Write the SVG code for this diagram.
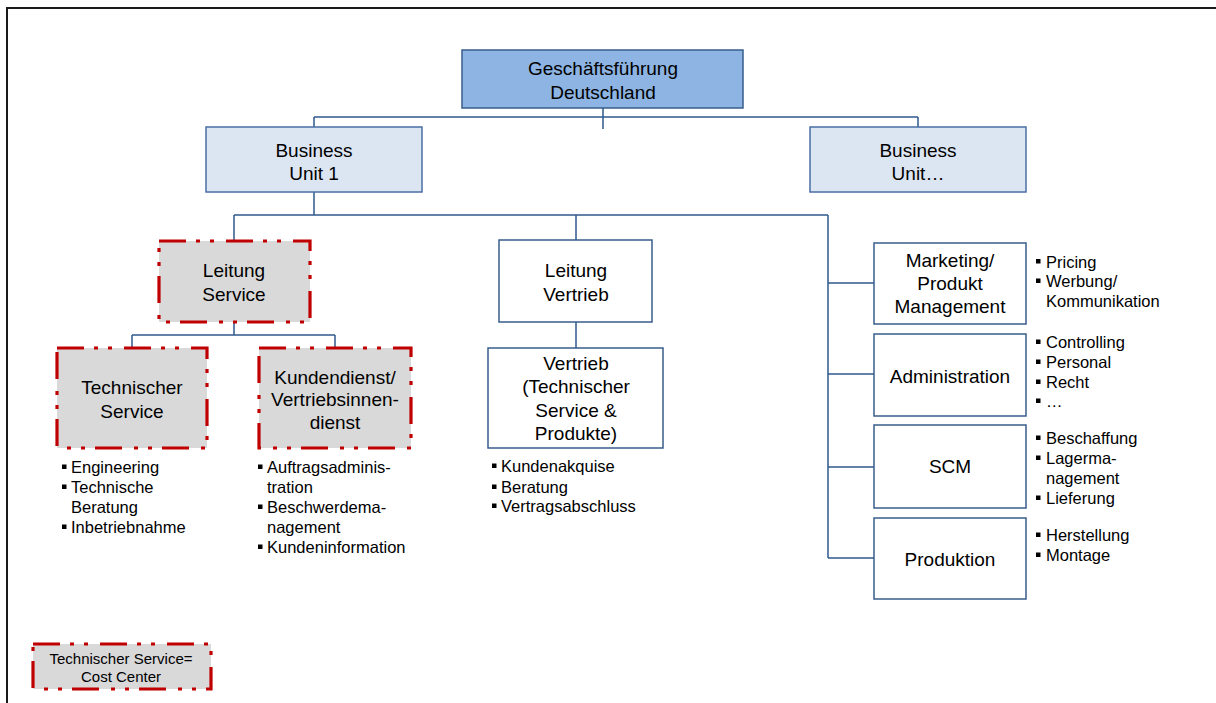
<svg xmlns="http://www.w3.org/2000/svg" width="1216" height="703" viewBox="0 0 1216 703">
<style>
text{font-family:"Liberation Sans",Arial,sans-serif;fill:#000}
.lbl{font-size:19px;text-anchor:middle}
.bl{font-size:16.5px}
.lg{font-size:15px;text-anchor:middle}
.top{fill:#8DB4E2;stroke:#385D8A;stroke-width:1.5}
.bu{fill:#DCE6F2;stroke:#4A6FA5;stroke-width:1.5}
.wb{fill:#FFFFFF;stroke:#385D8A;stroke-width:1.5}
.cc{fill:#D9D9D9;stroke:#C00000;stroke-width:3.2;stroke-dasharray:27 10 4 10 4 12}
.con{stroke:#2F5A8E;stroke-width:1.5;fill:none}
.sq{fill:#000}
</style>
<rect width="1216" height="703" fill="#FFFFFF"/>
<path d="M7,703 V8 H1216" fill="none" stroke="#1A1A1A" stroke-width="2"/>
<g id="connectors" class="con">
<path d="M603,108 V129 M314,117 H918 M314,117 V127 M918,117 V127"/>
<path d="M314,192 V215 M234,215 H828 M234,215 V240 M576,215 V240 M828,215 V558"/>
<path d="M828,283 H874 M828,374 H874 M828,467 H874 M828,558 H874"/>
<path d="M234,322 V335 M132,335 H335 M132,335 V347 M335,335 V347"/>
<path d="M576,322 V348"/>
</g>
<g id="n-gf">
<rect class="top" x="462" y="50" width="281" height="58"/>
<text class="lbl" x="603" y="75">Geschäftsführung</text>
<text class="lbl" x="603" y="99">Deutschland</text>
</g>
<g id="n-bu1">
<rect class="bu" x="206" y="127" width="216" height="65"/>
<text class="lbl" x="314" y="157">Business</text>
<text class="lbl" x="314" y="180">Unit 1</text>
</g>
<g id="n-bux">
<rect class="bu" x="810" y="127" width="216" height="65"/>
<text class="lbl" x="918" y="157">Business</text>
<text class="lbl" x="918" y="180">Unit…</text>
</g>
<g id="n-ls">
<rect class="cc" x="159" y="241" width="151" height="81"/>
<text class="lbl" x="234" y="277">Leitung</text>
<text class="lbl" x="234" y="301">Service</text>
</g>
<g id="n-ts">
<rect class="cc" x="57" y="348" width="150" height="100"/>
<text class="lbl" x="132" y="394">Technischer</text>
<text class="lbl" x="132" y="418">Service</text>
<g class="sq"><rect x="62" y="464.5" width="4.5" height="4.5"/><rect x="62" y="484.5" width="4.5" height="4.5"/><rect x="62" y="524.5" width="4.5" height="4.5"/></g>
<text class="bl" x="71" y="473">Engineering</text>
<text class="bl" x="71" y="493">Technische</text>
<text class="bl" x="71" y="512.5">Beratung</text>
<text class="bl" x="71" y="533">Inbetriebnahme</text>
</g>
<g id="n-kd">
<rect class="cc" x="259" y="348" width="152" height="100"/>
<text class="lbl" x="335" y="383.5">Kundendienst/</text>
<text class="lbl" x="335" y="406">Vertriebsinnen-</text>
<text class="lbl" x="335" y="428.5">dienst</text>
<g class="sq"><rect x="258" y="464.5" width="4.5" height="4.5"/><rect x="258" y="504.5" width="4.5" height="4.5"/><rect x="258" y="544.5" width="4.5" height="4.5"/></g>
<text class="bl" x="267" y="473">Auftragsadminis-</text>
<text class="bl" x="267" y="493">tration</text>
<text class="bl" x="267" y="513">Beschwerdema-</text>
<text class="bl" x="267" y="533">nagement</text>
<text class="bl" x="267" y="553">Kundeninformation</text>
</g>
<g id="n-lv">
<rect class="wb" x="499" y="240" width="153" height="82"/>
<text class="lbl" x="576" y="277">Leitung</text>
<text class="lbl" x="576" y="301">Vertrieb</text>
</g>
<g id="n-vt">
<rect class="wb" x="488" y="348" width="175" height="100"/>
<text class="lbl" x="576" y="370">Vertrieb</text>
<text class="lbl" x="576" y="393.3">(Technischer</text>
<text class="lbl" x="576" y="416.7">Service &amp;</text>
<text class="lbl" x="576" y="440">Produkte)</text>
<g class="sq"><rect x="492" y="463.5" width="4.5" height="4.5"/><rect x="492" y="484.5" width="4.5" height="4.5"/><rect x="492" y="503.5" width="4.5" height="4.5"/></g>
<text class="bl" x="501" y="472">Kundenakquise</text>
<text class="bl" x="501" y="493">Beratung</text>
<text class="bl" x="501" y="512">Vertragsabschluss</text>
</g>
<g id="n-mkt">
<rect class="wb" x="874" y="243" width="152" height="81"/>
<text class="lbl" x="950" y="266.7">Marketing/</text>
<text class="lbl" x="950" y="290">Produkt</text>
<text class="lbl" x="950" y="313.3">Management</text>
<g class="sq"><rect x="1036" y="259" width="4.5" height="4.5"/><rect x="1036" y="278.5" width="4.5" height="4.5"/></g>
<text class="bl" x="1046" y="267.7">Pricing</text>
<text class="bl" x="1046" y="287">Werbung/</text>
<text class="bl" x="1046" y="307">Kommunikation</text>
</g>
<g id="n-adm">
<rect class="wb" x="874" y="334" width="152" height="82"/>
<text class="lbl" x="950" y="382.7">Administration</text>
<g class="sq"><rect x="1036" y="339.5" width="4.5" height="4.5"/><rect x="1036" y="359.5" width="4.5" height="4.5"/><rect x="1036" y="379.5" width="4.5" height="4.5"/><rect x="1036" y="398.5" width="4.5" height="4.5"/></g>
<text class="bl" x="1046" y="348">Controlling</text>
<text class="bl" x="1046" y="368">Personal</text>
<text class="bl" x="1046" y="388">Recht</text>
<text class="bl" x="1046" y="407">…</text>
</g>
<g id="n-scm">
<rect class="wb" x="874" y="425" width="152" height="83"/>
<text class="lbl" x="950" y="473.3">SCM</text>
<g class="sq"><rect x="1036" y="435.5" width="4.5" height="4.5"/><rect x="1036" y="455.5" width="4.5" height="4.5"/><rect x="1036" y="495.5" width="4.5" height="4.5"/></g>
<text class="bl" x="1046" y="444">Beschaffung</text>
<text class="bl" x="1046" y="464">Lagerma-</text>
<text class="bl" x="1046" y="484">nagement</text>
<text class="bl" x="1046" y="504">Lieferung</text>
</g>
<g id="n-prod">
<rect class="wb" x="874" y="518" width="152" height="81"/>
<text class="lbl" x="950" y="566">Produktion</text>
<g class="sq"><rect x="1036" y="532.5" width="4.5" height="4.5"/><rect x="1036" y="552.5" width="4.5" height="4.5"/></g>
<text class="bl" x="1046" y="540.7">Herstellung</text>
<text class="bl" x="1046" y="560.7">Montage</text>
</g>
<g id="legend">
<rect class="cc" x="33" y="644" width="178" height="45"/>
<text class="lg" x="121" y="664">Technischer Service=</text>
<text class="lg" x="121" y="682.3">Cost Center</text>
</g>
</svg>
